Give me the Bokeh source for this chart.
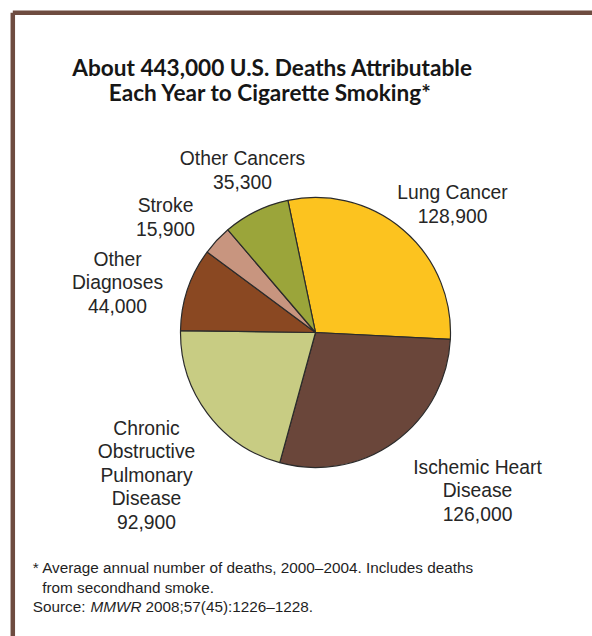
import numpy as np
from bokeh.plotting import figure
from bokeh.models import Range1d, ColumnDataSource
from bokeh.core.properties import value
from bokeh.embed import file_html
from bokeh.resources import INLINE

# ---------------- data ----------------
title_lines = ["About 443,000 U.S. Deaths Attributable", "Each Year to Cigarette Smoking*"]
categories = ["Lung Cancer", "Ischemic Heart\nDisease", "Chronic\nObstructive\nPulmonary\nDisease",
              "Other\nDiagnoses", "Stroke", "Other Cancers"]
deaths = [128900, 126000, 92900, 44000, 15900, 35300]
colors = ["#FCC31F", "#6A463A", "#C8CC83", "#8A4822", "#C8957F", "#9BA53A"]
footnote_1 = "* Average annual number of deaths, 2000\u20132004. Includes deaths"
footnote_2 = "from secondhand smoke."
source_pre = "Source: "
source_journal = "MMWR"
source_post = "2008;57(45):1226\u20131228."

# ---------------- layout (screen px) ----------------
W, H = 592, 636
def sy(y):
    return 636 - y

cx, cy, R = 315, 332, 135
start_deg = 101.8
label_anchor = [(452, 192), (477, 467), (146, 428), (117, 259), (165, 205), (242, 158)]
line_step = 23.3
LABEL_FONT = value("Liberation Sans")
FOOT_SIZE = "15.3px"

p = figure(width=W, height=H, output_backend="svg", toolbar_location=None,
           x_range=Range1d(0, W), y_range=Range1d(636 - H, 636), min_border=0)
p.axis.visible = False
p.grid.visible = False
p.outline_line_color = None
p.background_fill_color = "white"
p.border_fill_color = "white"

# border
p.segment(x0=[12.3, 12.3], y0=[sy(12.3), sy(12.3)], x1=[12.3, W], y1=[636 - H, sy(12.3)],
          line_color="#6E4C40", line_width=4.5)

# pie
vals = np.array(deaths, dtype=float)
frac = vals / vals.sum() * 2 * np.pi
cum = np.concatenate([[0], np.cumsum(frac)])
a0 = np.deg2rad(start_deg) - cum[:-1]
a1 = np.deg2rad(start_deg) - cum[1:]
src = ColumnDataSource(dict(start=a1, end=a0, color=colors, name=categories, value=deaths))
p.wedge(x=cx, y=sy(cy), radius=R, radius_units="screen", start_angle="start", end_angle="end",
        fill_color="color", line_color="#2b2b2b", line_width=1.2, source=src)

# labels
lx, ly, lt = [], [], []
for (ax, ay), name, v in zip(label_anchor, categories, deaths):
    lines = name.split("\n") + [f"{v:,}"]
    for i, t in enumerate(lines):
        lx.append(ax)
        ly.append(sy(ay + i * line_step))
        lt.append(t)
p.text(x=lx, y=ly, text=lt, text_align="center", text_baseline="alphabetic",
       text_font=LABEL_FONT, text_font_size="19.3px", text_color="#262626")

# title
p.text(x=[272, 270], y=[sy(66.7), sy(92.3)], text=title_lines, text_align="center",
       text_baseline="alphabetic", text_font=value("Lato"), text_font_style="bold",
       text_font_size="22.6px", text_color="#161616")

# footnote
p.text(x=[32.3, 41.7, 32.3], y=[sy(566.7), sy(586.5), sy(605.7)],
       text=[footnote_1, footnote_2, source_pre], text_align="left", text_baseline="alphabetic",
       text_font=LABEL_FONT, text_font_size=FOOT_SIZE, text_color="#1f1f1f")
p.text(x=[90], y=[sy(605.7)], text=[source_journal], text_align="left", text_baseline="alphabetic",
       text_font=LABEL_FONT, text_font_style="italic", text_font_size=FOOT_SIZE, text_color="#1f1f1f")
p.text(x=[145], y=[sy(605.7)], text=[source_post], text_align="left", text_baseline="alphabetic",
       text_font=LABEL_FONT, text_font_size=FOOT_SIZE, text_color="#1f1f1f")

open("out.html", "w").write(file_html(p, INLINE))
